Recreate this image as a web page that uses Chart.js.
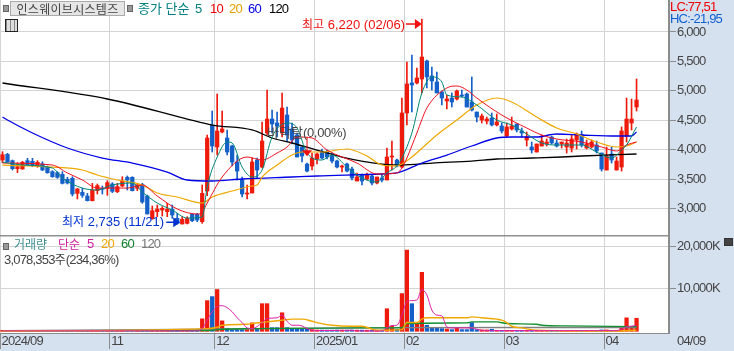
<!DOCTYPE html>
<html lang="ko">
<head>
<meta charset="utf-8">
<title>인스웨이브시스템즈</title>
<script src="https://cdn.jsdelivr.net/npm/chart.js@4"></script>
<style>
  html, body { margin: 0; padding: 0; background: #fff; }
  #marco { position: relative; width: 734px; height: 351px; overflow: hidden; }
  canvas { position: absolute; left: 0; }
  .txt { position: absolute; white-space: pre; font: 13px/14px "Liberation Sans", sans-serif; letter-spacing: -.8px; z-index: 2; }
  .ko { font-family: "Noto Sans CJK KR", sans-serif; font-size: 12px; letter-spacing: 0; }
  .cuadro { position: absolute; width: 4px; height: 5px; background: #999; border: 1px solid #666; z-index: 2; }
</style>
</head>
<body>
<div id="marco">
  <canvas id="chart-precio" width="734" height="235" style="top:0;width:734px;height:235px"></canvas>
  <canvas id="chart-volumen" width="734" height="116" style="top:235px;width:734px;height:116px"></canvas>

  <div class="cuadro" style="left:3px;top:5px"></div>
  <div class="txt ko" style="left:10px;top:1px;width:113px;height:13px;background:#e6e6e6;border:1px solid #aaa;color:#444;text-align:center;letter-spacing:.3px">인스웨이브시스템즈</div>
  <div class="cuadro" style="left:127px;top:5px"></div>
  <div class="txt ko" style="left:138px;top:1px;color:#008080;font-size:13px">종가 단순</div>
  <div class="txt" style="left:195px;top:2px;color:#008080">5</div>
  <div class="txt" style="left:210px;top:2px;color:#f00000">10</div>
  <div class="txt" style="left:229px;top:2px;color:#e8a000">20</div>
  <div class="txt" style="left:248px;top:2px;color:#0000e0">60</div>
  <div class="txt" style="left:269px;top:2px;color:#000">120</div>
  <div style="position:absolute;left:5px;top:19px;width:11px;height:11px;border:1px solid #222;z-index:2;background:repeating-linear-gradient(90deg,#888 0 1px,#ddd 1px 4px)"></div>

  <div class="txt" style="left:670px;top:0;color:#f00000">LC:77,51</div>
  <div class="txt" style="left:670px;top:12px;color:#1060d0">HC:-21,95</div>

  <div class="txt" style="left:302px;top:17px;color:#f01010;letter-spacing:0"><span class="ko">최고</span> 6,220 (02/06)</div>
  <div class="txt" style="left:62px;top:214px;color:#0030d0;letter-spacing:0"><span class="ko">최저</span> 2,735 (11/21)</div>
  <div class="txt" style="left:267px;top:125px;color:#444;letter-spacing:-.3px"><span class="ko" style="font-size:13px">바닥탈</span>(0,00%)</div>

  <div class="cuadro" style="left:3px;top:243px"></div>
  <div class="txt ko" style="left:14px;top:237px;color:#408f90">거래량</div>
  <div class="txt ko" style="left:58px;top:237px;color:#d020a0">단순</div>
  <div class="txt" style="left:87px;top:237px;color:#d020a0">5</div>
  <div class="txt" style="left:101px;top:237px;color:#f0a800">20</div>
  <div class="txt" style="left:121px;top:237px;color:#108030">60</div>
  <div class="txt" style="left:141px;top:237px;color:#777">120</div>
  <div class="txt" style="left:4px;top:252px;color:#444">3,078,353<span class="ko">주</span>(234,36%)</div>

  <div class="txt" style="left:677px;top:334px;color:#444">04/09</div>
  <div style="position:absolute;left:724px;top:238px;width:7px;height:6px;background:#444;border:1px solid #333;z-index:2"></div>
</div>

<script>
// ── Datos ──
const TOTAL_BARRAS = 134; // 128 velas y hueco a la derecha
const barras = Array.from({ length: TOTAL_BARRAS }, (_, i) => i);

const tickBarras = [0, 22, 43, 63, 81, 101, 121];
const tickTextos = ['2024/09', '11', '12', '2025/01', '02', '03', '04'];

const apertura = [3826,3922,3815,3679,3674,3815,3804,3730,3758,3702,3628,3611,3583,3498,3515,3260,3277,3215,3136,3306,
  3345,3345,3419,3289,3385,3532,3532,3345,3408,3215,2830,2949,2977,2949,2989,2836,2740,2751,2904,2904,
  2779,3300,4420,4047,4302,4200,4064,3792,3487,3249,3266,3826,3707,4285,4522,4455,4285,4590,4353,4251,
  4047,3758,3724,3843,3962,3962,3894,3809,3707,3758,3673,3470,3572,3504,3555,3436,3521,3487,3877,3826,
  3707,4625,5134,5134,5202,5507,5253,5151,4981,4828,4879,4862,4930,4947,4811,4641,4505,4488,4539,4421,
  4404,4234,4353,4438,4319,4166,4047,3962,4064,4098,4217,4115,4098,4047,4030,4166,4251,4030,4047,4081,
  3945,3656,3928,3656,3707,4234,4455,4726];
const maximo = [3968,3940,3826,3781,3804,3855,3855,3815,3798,3724,3645,3628,3628,3532,3543,3345,3345,3260,3430,3419,
  3385,3476,3442,3430,3543,3555,3543,3430,3430,3232,3045,3062,3034,3091,3062,2921,2864,2864,2921,2921,
  3402,4250,4658,4947,4658,4336,4081,3911,3538,3402,3860,3860,4471,5015,4675,4641,4964,4726,4455,4285,
  4047,3775,3945,3945,4013,3996,3945,3826,3741,3775,3707,3605,3589,3605,3572,3538,3589,4030,4149,3843,
  4879,5490,5609,5388,6220,5524,5405,5320,4998,4930,4964,5015,5015,4964,5236,4641,4607,4556,4624,4607,
  4455,4455,4556,4438,4370,4302,4132,4098,4251,4183,4234,4166,4132,4183,4251,4285,4319,4166,4166,4149,
  3945,4047,4047,3877,4387,4879,4862,5202];
const minimo = [3781,3787,3657,3611,3668,3730,3713,3702,3645,3600,3532,3515,3419,3419,3215,3164,3192,3130,3130,3249,
  3249,3226,3272,3272,3374,3317,3300,3306,3091,2910,2819,2864,2875,2864,2836,2735,2740,2740,2779,2779,
  2751,3220,3962,3911,4285,3911,3724,3487,3198,3164,3266,3521,3690,4251,4285,4217,4217,4132,4098,3877,
  3792,3622,3656,3758,3843,3843,3775,3690,3622,3622,3487,3470,3402,3487,3402,3419,3453,3487,3656,3707,
  3690,4421,4641,5117,4964,5049,5015,4964,4760,4692,4726,4845,4896,4726,4658,4472,4455,4438,4404,4404,
  4285,4217,4336,4302,4217,4064,3945,3962,4064,4064,4098,4047,4030,3945,3962,4013,4047,4013,4030,3945,
  3639,3656,3775,3656,3639,4132,4336,4658];
const cierre = [3917,3798,3679,3713,3787,3741,3741,3787,3657,3611,3543,3532,3430,3436,3249,3334,3226,3136,3317,3391,
  3328,3442,3294,3374,3470,3487,3306,3402,3113,2910,2966,2994,3006,2989,2892,2751,2819,2836,2796,2808,
  3260,4200,4064,4319,4353,3962,3792,3639,3249,3266,3792,3656,4149,4522,4438,4404,4709,4251,4166,3877,
  3894,3639,3860,3928,3860,3877,3809,3707,3724,3639,3521,3538,3470,3572,3436,3538,3487,3877,3887,3724,
  4625,5117,5100,5219,5575,5236,5168,4964,4879,4862,4811,4998,4913,4726,4675,4556,4573,4522,4421,4472,
  4319,4387,4404,4336,4285,4217,3996,4098,4149,4132,4115,4064,4132,4115,4183,4268,4081,4098,4132,3979,
  3673,3894,3826,3809,4319,4522,4522,4845];

const ma5Barras = [0,4,10,12,16,19,22,26,28,31,34,37,40,41,43,45,46,48,50,52,54,57,59,61,64,66,69,72,75,77,79,80,82,84,86,88,89,92,95,99,102,105,108,111,116,119,122,124,125,127];
const ma5Valores = [3792,3741,3690,3520,3350,3317,3402,3436,3283,3096,2977,2841,2858,3368,3877,4132,4115,3707,3537,3656,4217,4454,4370,3945,3826,3911,3707,3520,3453,3606,3725,3860,4285,4964,5236,5151,4930,4896,4760,4505,4420,4268,4115,4081,4081,3962,3860,3996,4081,4387];
const ma10Barras = [0,10,13,16,19,25,28,31,35,39,40,41,44,49,52,55,57,59,62,65,71,75,79,80,81,83,85,89,91,93,95,100,105,108,111,116,120,123,125,127];
const ma10Valores = [3775,3741,3606,3487,3350,3350,3402,3215,2994,2909,2943,3096,3537,3877,3826,3945,4047,4217,4200,3996,3775,3589,3606,3690,3860,4285,4709,5049,5083,5015,4879,4590,4370,4251,4183,4132,4047,3979,4081,4132];
const ma20Barras = [0,10,16,19,23,28,31,35,40,42,46,50,51,52,55,58,60,64,69,73,76,79,80,82,87,91,95,99,102,107,111,115,119,123,125,127];
const ma20Valores = [3741,3707,3656,3572,3487,3402,3266,3198,3096,3198,3300,3385,3402,3537,3741,3911,3962,3962,4013,3894,3741,3725,3758,3877,4251,4505,4760,4879,4811,4556,4370,4268,4132,4047,4064,4132];
const ma60Barras = [0,1,6,13,20,26,33,37,42,48,58,63,76,79,84,89,94,99,102,107,111,116,123,126,127];
const ma60Valores = [4556,4505,4285,4030,3860,3775,3622,3487,3470,3504,3538,3555,3589,3606,3775,3911,4064,4200,4217,4217,4268,4251,4234,4234,4302];
const ma120Barras = [0,21,37,42,50,54,58,63,68,76,80,86,94,99,106,112,116,127];
const ma120Valores = [5134,4862,4522,4420,4336,4200,4115,3996,3877,3758,3741,3775,3809,3843,3860,3877,3894,3928];

// volumen en miles
const volumen = [120,100,150,110,130,110,100,120,150,110,100,120,180,110,210,130,120,140,240,130,
  110,170,130,120,190,130,210,120,240,260,230,130,120,130,140,180,120,130,110,170,
  2940,7225,8180,9850,2460,715,400,400,400,400,1985,550,6510,6510,870,870,4370,870,480,480,
  480,480,400,300,300,280,280,300,280,280,300,280,280,260,260,260,300,5320,1190,480,
  8890,19140,6510,1670,13900,1430,870,870,640,550,400,715,400,400,2060,400,320,320,480,240,
  200,240,220,160,140,200,180,210,150,170,130,160,140,120,150,170,150,130,140,120,
  320,320,130,130,800,3175,1030,3078];

const vma5Barras = [0,39,40,41,42,43,44,45,46,47,48,49,50,52,53,55,56,57,58,59,60,61,62,63,70,71,76,77,78,79,80,81,82,83,84,85,86,87,88,89,90,94,95,96,97,123,124,125,126,127];
const vma5Valores = [100,100,640,2620,4600,5800,6030,5560,4600,3180,2060,800,640,2060,3020,3180,3810,2380,1430,1430,1270,640,240,160,240,80,80,800,1350,1430,3810,6990,7225,7380,9770,8575,5000,3810,3650,1030,800,800,480,240,160,160,480,1030,1190,1430];
const vma20Barras = [0,41,43,44,49,50,53,56,58,60,62,63,66,70,72,75,80,81,83,84,85,93,94,96,99,100,101,102,104,107,123,127];
const vma20Valores = [80,640,950,1430,1670,1825,2220,2620,2860,2860,2380,2060,1430,1190,1190,240,400,2060,2060,2860,3180,3180,3410,3180,2860,2620,2060,1190,800,240,80,240];
const vma60Barras = [0,41,44,50,72,80,81,93,94,99,101,107,108,113,127];
const vma60Valores = [160,160,480,635,800,870,1830,1985,2220,2220,1826,1670,1430,1270,1110];
const vma120Barras = [0,42,50,80,127];
const vma120Valores = [160,480,630,870,900];

const preciosTicks = [3000,3100,3200,3300,3400,3500,3600,3700,3800,3900,4000,4100,4200,4300,4400,4500,4600,4700,4800,4900,5000,5100,5200,5300,5400,5500,5600,5700,5800,5900,6000];
const volumenTicks = [0,2000,4000,6000,8000,10000,12000,14000,16000,18000,20000,22000];

// ── Estilo ──
const ROJO = '#ee1b0c';
const AZUL = '#1560c8';
const REJILLA = '#d4d4d4';
const EJE = '#8c8c8c';
const FONDO_EJE = '#d6e1f0';
const FUENTE = '"Liberation Sans", sans-serif';

// las medias se leyeron en algunas barras; chart.js une los puntos con spanGaps
function serie(indices, valores) {
  const out = new Array(128).fill(null);
  indices.forEach((b, k) => { out[b] = valores[k]; });
  return out;
}

function linea(indices, valores, color, ancho) {
  return {
    type: 'line', data: serie(indices, valores), borderColor: color, borderWidth: ancho,
    pointRadius: 0, spanGaps: true, order: 0, cubicInterpolationMode: 'monotone',
  };
}

// min y max entran como ticks sin texto para que el eje no pida margen arriba y abajo
function ejeVertical(min, max, ticksLista, esMayor, etiqueta) {
  return {
    position: 'right', min, max,
    afterBuildTicks: s => { s.ticks = [min, ...ticksLista, max].map(value => ({ value })); },
    afterFit: s => { s.width = 65; s.paddingTop = 0; s.paddingBottom = 0; },
    border: { color: EJE, width: 2 },
    grid: {
      color: c => esMayor(c.tick.value) ? REJILLA : 'transparent',
      tickColor: c => esMayor(c.tick.value) ? EJE : 'transparent',
      tickLength: 7,
    },
    ticks: {
      color: '#444', padding: 1, autoSkip: false, maxRotation: 0,
      font: { family: FUENTE, size: 13 },
      callback: v => esMayor(v) ? etiqueta(v) : null,
    },
  };
}

// fondo y marcas cortas del eje
function pluginFondo(esMayor) {
  return {
    id: 'fondo',
    beforeDraw(chart) {
      const { ctx, chartArea: a, width, height } = chart;
      ctx.save();
      ctx.fillStyle = '#fff';
      ctx.fillRect(0, 0, width, height);
      ctx.fillStyle = FONDO_EJE;
      ctx.fillRect(a.right, 0, width - a.right, height);
      ctx.fillRect(0, a.bottom, width, height - a.bottom);
      ctx.restore();
      ctx.letterSpacing = '-0.8px';
    },
    afterDraw(chart) {
      const { ctx, scales: { y }, chartArea: a } = chart;
      ctx.save();
      ctx.strokeStyle = EJE;
      y.ticks.forEach(t => {
        if (esMayor(t.value) || t.value === y.min || t.value === y.max) return;
        const py = Math.round(y.getPixelForValue(t.value)) + 0.5;
        ctx.beginPath();
        ctx.moveTo(a.right, py);
        ctx.lineTo(a.right + 4, py);
        ctx.stroke();
      });
      ctx.restore();
    },
  };
}

// flechas de máximo, mínimo y la marca roja, colgadas de las escalas
const pluginFlechas = {
  id: 'flechas',
  afterDatasetsDraw(chart) {
    const { ctx, scales: { x, y } } = chart;
    const alto = Math.max(...maximo), bajo = Math.min(...minimo);
    const xAlto = x.getPixelForValue(maximo.indexOf(alto));
    const xBajo = x.getPixelForValue(minimo.indexOf(bajo));
    const yAlto = y.getPixelForValue(alto) + 5;
    const yBajo = y.getPixelForValue(bajo) - 2;
    flechaDerecha(ctx, xAlto - 16, xAlto, yAlto, '#f01010');
    flechaDerecha(ctx, xBajo - 11, xBajo + 3, yBajo, '#0030d0');

    const xM = x.getPixelForValue(61);
    const yM = y.getPixelForValue(3940);
    ctx.save();
    ctx.strokeStyle = ctx.fillStyle = '#f01010';
    ctx.beginPath(); ctx.moveTo(xM, yM - 16); ctx.lineTo(xM, yM); ctx.stroke();
    ctx.beginPath(); ctx.moveTo(xM - 5, yM - 3); ctx.lineTo(xM + 5, yM - 3); ctx.lineTo(xM, yM + 3); ctx.fill();
    ctx.restore();
  },
};

function flechaDerecha(ctx, x0, x1, py, color) {
  ctx.save();
  ctx.strokeStyle = ctx.fillStyle = color;
  ctx.lineWidth = 1.5;
  ctx.beginPath(); ctx.moveTo(x0, py); ctx.lineTo(x1 - 4, py); ctx.stroke();
  ctx.beginPath(); ctx.moveTo(x1 - 7, py - 5); ctx.lineTo(x1, py); ctx.lineTo(x1 - 7, py + 5); ctx.fill();
  ctx.restore();
}

// ── Precio ──
const colorVela = apertura.map((o, i) => cierre[i] >= o ? ROJO : AZUL);
const esMayorPrecio = v => v % 500 === 0 && v >= 3000 && v <= 6000;

new Chart(document.getElementById('chart-precio'), {
  type: 'bar',
  data: {
    labels: barras,
    datasets: [
      linea(ma5Barras, ma5Valores, '#008878', 1),
      linea(ma10Barras, ma10Valores, '#f01020', 1),
      linea(ma20Barras, ma20Valores, '#f0a800', 1.2),
      linea(ma60Barras, ma60Valores, '#0000e6', 1.3),
      linea(ma120Barras, ma120Valores, '#000000', 1.3),
      {
        data: apertura.map((o, i) => [Math.min(o, cierre[i]), Math.max(o, cierre[i])]),
        backgroundColor: colorVela, barThickness: 3.6, grouped: false, order: 1, minBarLength: 1,
      },
      {
        data: minimo.map((l, i) => [l, maximo[i]]),
        backgroundColor: colorVela, barThickness: 1, grouped: false, order: 2,
      },
    ],
  },
  options: {
    responsive: false, animation: false,
    layout: { padding: 0, autoPadding: false },
    plugins: { legend: { display: false }, tooltip: { enabled: false } },
    scales: {
      x: {
        afterFit: s => { s.height = 0; },
        border: { display: false },
        grid: {
          drawTicks: false,
          color: c => tickBarras.includes(c.index) ? REJILLA : 'transparent',
        },
        ticks: { display: false, autoSkip: false },
      },
      y: ejeVertical(2553, 6543, preciosTicks, esMayorPrecio, v => v.toLocaleString('en-US')),
    },
  },
  plugins: [pluginFondo(esMayorPrecio), pluginFlechas],
});

// ── Volumen ──
const esMayorVol = v => v === 10000 || v === 20000;

new Chart(document.getElementById('chart-volumen'), {
  type: 'bar',
  data: {
    labels: barras,
    datasets: [
      linea(vma5Barras, vma5Valores, '#e020a8', 1),
      linea(vma20Barras, vma20Valores, '#f0a800', 1.4),
      linea(vma60Barras, vma60Valores, '#109030', 1.4),
      linea(vma120Barras, vma120Valores, '#808080', 1.4),
      {
        data: volumen,
        backgroundColor: colorVela, barThickness: 3.6, grouped: false, order: 1, minBarLength: 1,
      },
    ],
  },
  options: {
    responsive: false, animation: false,
    layout: { padding: 0, autoPadding: false },
    plugins: { legend: { display: false }, tooltip: { enabled: false } },
    scales: {
      x: {
        afterFit: s => { s.height = 18; },
        border: { color: EJE, width: 1 },
        grid: {
          tickLength: 16,
          color: c => tickBarras.includes(c.index) ? REJILLA : 'transparent',
          tickColor: c => tickBarras.includes(c.index) ? EJE : 'transparent',
        },
        ticks: {
          autoSkip: false, maxRotation: 0, minRotation: 0, align: 'start', padding: -15, labelOffset: -1,
          color: '#444', font: { family: FUENTE, size: 13 },
          callback: (_, i) => {
            const k = tickBarras.indexOf(i);
            return k >= 0 ? tickTextos[k] : '';
          },
        },
      },
      y: ejeVertical(-400, 22690, volumenTicks, esMayorVol, v => v.toLocaleString('en-US') + 'K'),
    },
  },
  plugins: [pluginFondo(esMayorVol), {
    id: 'separador',
    afterDraw(chart) {
      const { ctx, chartArea: a } = chart;
      ctx.save();
      ctx.fillStyle = '#909090';
      ctx.fillRect(0, 0, a.right, 1.5);
      ctx.restore();
    },
  }],
});
</script>
</body>
</html>
